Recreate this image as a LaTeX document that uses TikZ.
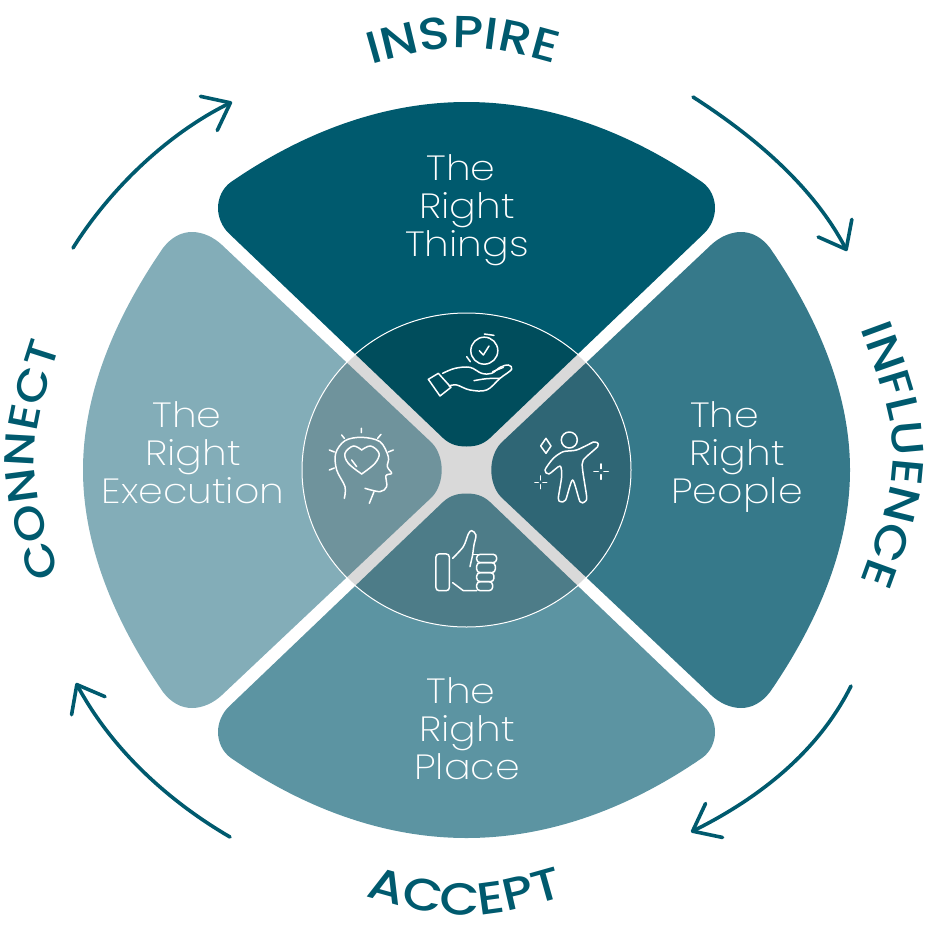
\documentclass[tikz,border=0pt]{standalone}
\usepackage{fontspec}
\setmainfont{Poppins ExtraLight}[FakeStretch=1.13]
\newfontfamily\wordfont{Poppins Medium}[FakeStretch=1.15]
\usetikzlibrary{arrows.meta,decorations.text}
\definecolor{teal0}{HTML}{005A6E}
\definecolor{teal1}{HTML}{36798A}
\definecolor{teal2}{HTML}{5C94A2}
\definecolor{teal3}{HTML}{83ADB8}
\definecolor{inner0}{HTML}{004D5C}
\definecolor{inner1}{HTML}{2F6675}
\definecolor{inner2}{HTML}{4D7C88}
\definecolor{inner3}{HTML}{6F939C}
\definecolor{hub}{HTML}{D9D9D9}
\tikzset{
  petaltext/.style = {
    text=white,
    align=center,
    font=\fontsize{35}{38}\selectfont
  },
  cyclearrow/.style = {
    draw=teal0,
    line width=3.6pt,
    line cap=round,
    -{Straight Barb[length=24pt,width=38pt,line width=3.6pt,round]}
  },
  word/.style 2 args = {
    decorate,
    decoration={
      text along path,
      text align=center,
      text color=teal0,
      text={|\wordfont\fontsize{#1}{#1}\selectfont|#2}
    }
  },
  icon/.style = {
    draw=white,
    line width=1.5pt,
    line cap=round,
    line join=round
  }
}
% petals, relative to the centre of the wheel
\def\toppetal{(-235.5,-288) .. controls (-160,-340) and (-80,-368) .. (0,-368)
  .. controls (80,-368) and (160,-340) .. (235.5,-288)
  .. controls (244,-282) and (248.5,-272) .. (248.5,-262)
  .. controls (248.5,-252) and (244,-243) .. (238,-237)
  -- (23.5,-32) .. controls (16,-25) and (8,-23.5) .. (0,-23.5)
  .. controls (-8,-23.5) and (-16,-25) .. (-23.5,-32)
  -- (-238,-237) .. controls (-244,-243) and (-248.5,-252) .. (-248.5,-262)
  .. controls (-248.5,-272) and (-244,-282) .. (-235.5,-288) -- cycle}
\def\sidepetal{(-303.5,-222) .. controls (-356.5,-145) and (-383.5,-70) .. (-383.5,0)
  .. controls (-383.5,70) and (-356.5,145) .. (-303.5,222)
  .. controls (-295,233) and (-285,238) .. (-274.5,238)
  .. controls (-264,238) and (-253,233) .. (-244.5,225)
  -- (-34.5,27) .. controls (-28,20) and (-24.8,10) .. (-24.8,0)
  .. controls (-24.8,-10) and (-28,-20) .. (-34.5,-27)
  -- (-244.5,-225) .. controls (-253,-233) and (-264,-238) .. (-274.5,-238)
  .. controls (-285,-238) and (-295,-233) .. (-303.5,-222) -- cycle}
\begin{document}
\begin{tikzpicture}[x=1pt,y=-1pt]
  \useasboundingbox (0,0) rectangle (934,934);
  \begin{scope}[shift={(466.5,470)}]
    \fill[teal0] \toppetal;
    \fill[teal2,yscale=-1] \toppetal;
    \fill[teal3] \sidepetal;
    \fill[teal1,xscale=-1] \sidepetal;
    \begin{scope}
      \clip (0,0) ellipse [x radius=164.5pt,y radius=157pt];
      \fill[hub] (-170,-170) rectangle (170,170);
      \fill[inner0] \toppetal;
      \fill[inner2,yscale=-1] \toppetal;
      \fill[inner3] \sidepetal;
      \fill[inner1,xscale=-1] \sidepetal;
    \end{scope}
    \draw[white,line width=1pt] (0,0) ellipse [x radius=164.5pt,y radius=157pt];
  \end{scope}
  % petal texts
  \node[petaltext] (things) at (467,210) {The\hspace*{12pt}\\Right\\Things};
  \node[petaltext] (people) at (737,457) {The\hspace*{25pt}\\Right\\People};
  \node[petaltext] (place) at (467,729) {The\hspace*{12pt}\\Right\\Place};
  \node[petaltext] (execution) at (193,453) {The\hspace*{12pt}\\Right\hspace*{10pt}\\Execution};
  % words round the wheel
  \path[word={45}{INSPIRE}] (303,85) .. controls (463,35) .. (623,85);
  \path[word={44}{INFLUENCE}] (848,295) .. controls (908,455) .. (848,615);
  \path[word={45}{ACCEPT}] (305,878) .. controls (465,928) .. (625,878);
  \path[word={42}{CONNECT}] (75,620) .. controls (21,460) .. (75,300);
  % arrows
  \coordinate (inspirestart) at (693,97);
  \coordinate (inspireend) at (847,251);
  \coordinate (influencestart) at (851,686);
  \coordinate (influenceend) at (691,832);
  \coordinate (acceptstart) at (230,837);
  \coordinate (acceptend) at (76,683);
  \coordinate (connectstart) at (73,248);
  \coordinate (connectend) at (232,102);
  \draw[cyclearrow] (inspirestart) .. controls (760,140) and (815,190) .. (inspireend);
  \draw[cyclearrow] (influencestart) .. controls (820,748) and (765,795) .. (influenceend);
  \draw[cyclearrow] (acceptstart) .. controls (175,805) and (115,755) .. (acceptend);
  \draw[cyclearrow] (connectstart) .. controls (108,192) and (165,135) .. (connectend);
  % icons, at the scale of the hub crop
  \begin{scope}[shift={(300,310)},x=0.3333pt,y=-0.3333pt,icon]
    % hand
    \draw (553,122) circle (13.5pt);
    \draw (538,122) -- (550,135) -- (567,108);
    \draw (553,72) -- (582,76);
    \draw (500,140) -- (511,155);
    \draw (385,208) -- (415,190) -- (453,232) -- (420,258) -- cycle;
    \draw plot[smooth,tension=0.6] coordinates {(428,190) (465,175) (510,172) (545,190) (575,190) (600,172) (625,165) (635,178) (600,205) (560,240) (510,240) (470,225) (447,228)};
    \draw plot[smooth,tension=0.6] coordinates {(522,212) (560,206) (600,205)};
    \draw (578,185) -- (610,172);
    % person
    \draw (808,390) circle (8pt);
    \draw plot[smooth,tension=0.45] coordinates {(880,396) (892,398) (893,410) (850,450) (848,480) (860,560) (855,575) (840,575) (818,510) (797,570) (782,575) (775,565) (785,500) (780,468) (747,492) (735,480) (760,445) (790,425) (830,420) (880,396)};
    \draw (738,385) -- (753,408) -- (738,430) -- (722,408) -- cycle;
    \draw (903,462) -- (903,476) (903,494) -- (903,508) (882,485) -- (895,485) (912,485) -- (925,485);
    \draw (722,498) -- (722,510) (722,524) -- (722,536) (705,517) -- (715,517) (729,517) -- (740,517);
    % thumb
    \draw[rounded corners=3pt] (408,732) rectangle (448,842);
    \draw plot[smooth,tension=0.5] coordinates {(458,745) (490,710) (505,672) (515,662) (528,675) (522,705) (518,735)};
    \draw (518,735) -- (510,770);
    \draw (518,733) -- (535,733);
    \draw[rounded corners=3.5pt] (530,733) rectangle (590,758);
    \draw[rounded corners=3.5pt] (530,758) rectangle (586,788);
    \draw[rounded corners=3.5pt] (530,788) rectangle (582,815);
    \draw[rounded corners=3.5pt] (530,815) rectangle (578,842);
    \draw (530,842) -- (490,842) -- (458,818);
    % head
    \draw plot[smooth,tension=0.55] coordinates {(133,565) (135,530) (110,480) (107,430) (135,392) (185,382) (240,395) (265,440) (262,470) (275,490) (258,497) (260,530) (240,545) (195,535)};
    \draw (222,545) -- (208,580);
    \draw plot[smooth,tension=0.6] coordinates {(185,492) (145,460) (135,430) (160,408) (185,420)};
    \draw plot[smooth,tension=0.6] coordinates {(185,492) (225,460) (237,430) (212,408) (185,420)};
    \draw (155,450) -- (170,470);
    \draw (184,355) -- (184,368) (125,375) -- (133,385) (243,373) -- (233,385);
    \draw (88,420) -- (103,426) (280,420) -- (265,426) (88,480) -- (103,474);
  \end{scope}
\end{tikzpicture}
\end{document}
